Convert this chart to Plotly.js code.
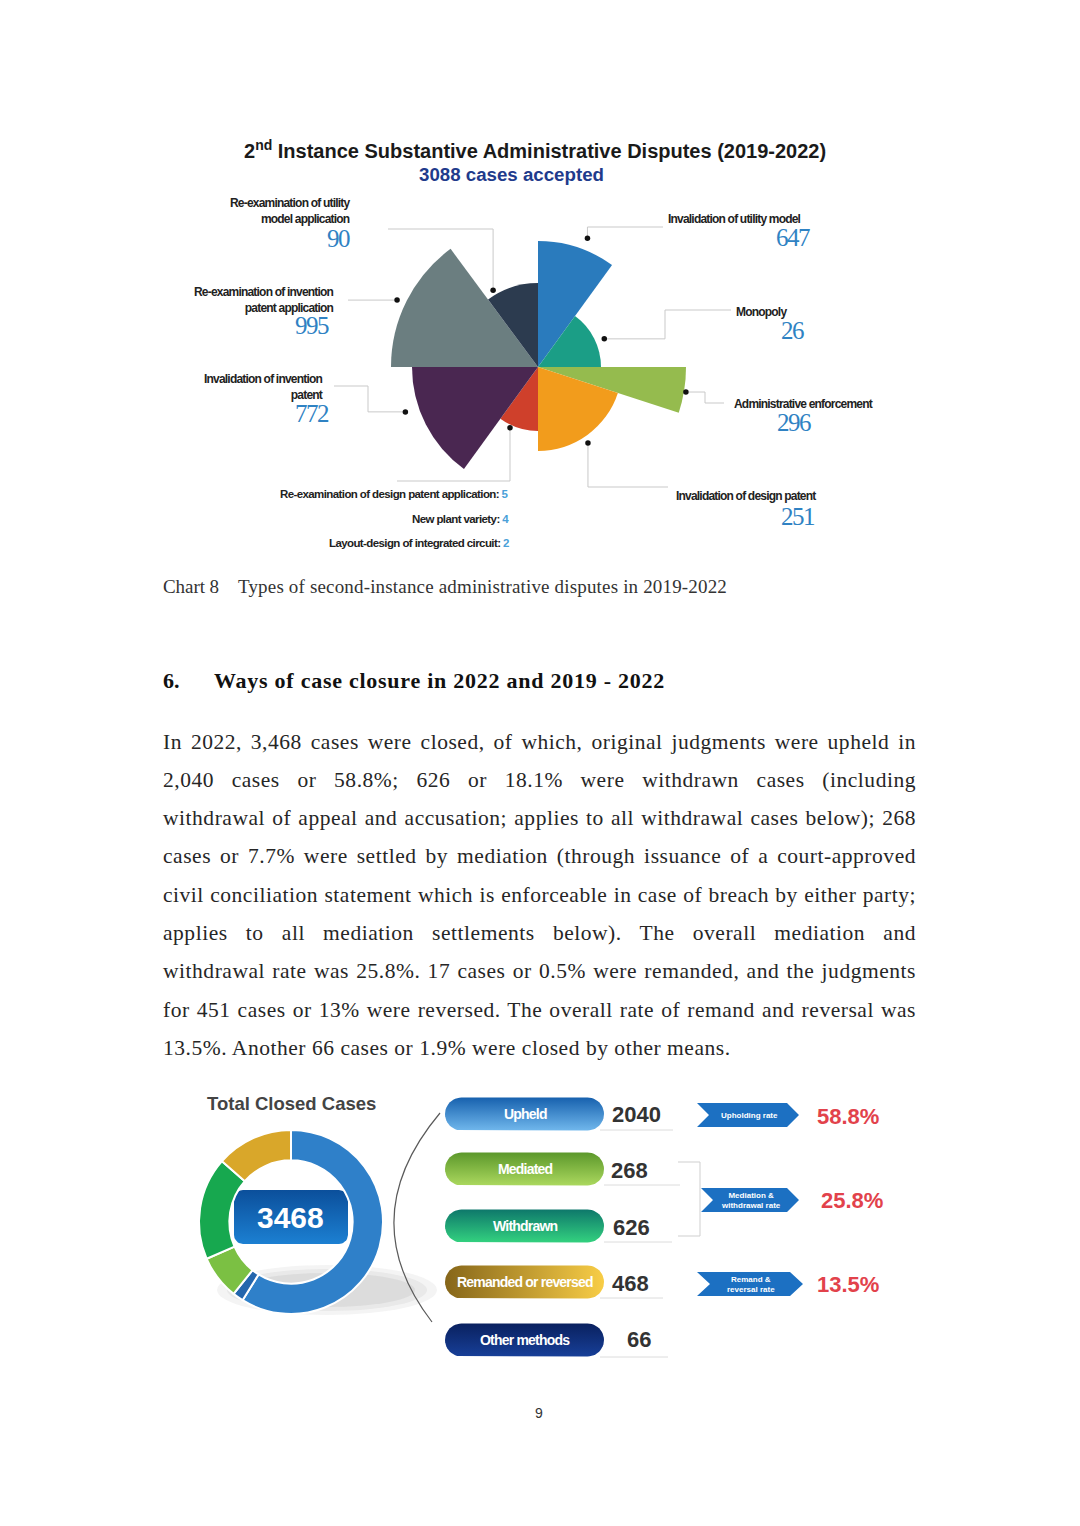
<!DOCTYPE html>
<html><head><meta charset="utf-8">
<script src="https://cdn.plot.ly/plotly-3.0.1.min.js"></script>
<style>
html,body{margin:0;padding:0;background:#fff;}
#page{position:relative;width:1080px;height:1526px;overflow:hidden;background:#fff;}
#plot{position:absolute;left:0;top:0;width:1080px;height:1526px;}
.t{position:absolute;font-family:'Liberation Serif','Times New Roman',serif;color:#262626;white-space:nowrap;}
.pl{left:163px;width:753px;font-size:21.5px;line-height:28px;text-align:justify;text-align-last:justify;}
.last{text-align-last:left;}
text[style*="lblnarrow"]{letter-spacing:-0.8px;}
text[style*="smlnarrow"]{letter-spacing:-0.6px;}
text[style*="pillnarrow"]{letter-spacing:-0.8px;}
text[style*="numnarrow"]{letter-spacing:-1.5px;}
</style></head>
<body><div id="page"><div id="plot"></div>
<div class="t fit" data-w="56" style="left:163px;top:575px;font-size:19px;line-height:24px;color:#333">Chart 8</div>
<div class="t fit" data-w="489" style="left:238px;top:575px;font-size:19px;line-height:24px;color:#333">Types of second-instance administrative disputes in 2019-2022</div>
<div class="t" style="left:163px;top:667px;font-size:22px;line-height:28px;font-weight:bold;color:#111">6.</div>
<div class="t fit" data-w="451" style="left:214px;top:667px;font-size:22px;line-height:28px;font-weight:bold;color:#111">Ways of case closure in 2022 and 2019 - 2022</div>
<div class="t pl" style="top:728px">In 2022, 3,468 cases were closed, of which, original judgments were upheld in</div>
<div class="t pl" style="top:766px">2,040 cases or 58.8%; 626 or 18.1% were withdrawn cases (including</div>
<div class="t pl" style="top:804px">withdrawal of appeal and accusation; applies to all withdrawal cases below); 268</div>
<div class="t pl" style="top:842px">cases or 7.7% were settled by mediation (through issuance of a court-approved</div>
<div class="t pl" style="top:881px">civil conciliation statement which is enforceable in case of breach by either party;</div>
<div class="t pl" style="top:919px">applies to all mediation settlements below). The overall mediation and</div>
<div class="t pl" style="top:957px">withdrawal rate was 25.8%. 17 cases or 0.5% were remanded, and the judgments</div>
<div class="t pl" style="top:996px">for 451 cases or 13% were reversed. The overall rate of remand and reversal was</div>
<div class="t pl last" style="top:1034px">13.5%. Another 66 cases or 1.9% were closed by other means.</div>
<div class="t" style="left:535px;top:1404px;font-size:14px;line-height:18px;font-family:'Liberation Sans',Arial,sans-serif;color:#333">9</div>
</div>
<script>
// ---------- DATA ----------
// Rose chart (2nd instance administrative disputes, 2019-2022)
const sectorNames = ['Invalidation of utility model','Monopoly','Administrative enforcement','Invalidation of design patent',
  'Design patent re-exam / new plant variety / IC layout-design','Invalidation of invention patent',
  'Re-examination of invention patent application','Re-examination of utility model application'];
const sectorCases = [647, 26, 296, 251, 11, 772, 995, 90];
const sectorStart = [0, 36, 90, 108, 180, 216, 270, 323.5];   // degrees, clockwise from north (as drawn)
const sectorEnd   = [36, 90, 108, 180, 216, 270, 323.5, 360];
const sectorRadius = [126, 63, 148, 84, 64, 126, 147, 84];     // drawn radius (as in picture)
const smallNames = ['Re-examination of design patent application', 'New plant variety', 'Layout-design of integrated circuit'];
const smallCases = [5, 4, 2];
const totalAccepted = 3088;
// Case closure 2022
const closureLabels = ['Upheld', 'Mediated', 'Withdrawn', 'Remanded or reversed', 'Other methods'];
const closureValues = [2040, 268, 626, 468, 66];
const totalClosed = 3468;
const rateLabels = ['Upholding rate', 'Mediation &<br>withdrawal rate', 'Remand &<br>reversal rate'];
const rateValues = [58.8, 25.8, 13.5];

// ---------- body text fitting ----------
(function(){
  const probe = document.createElement('span');
  probe.style.cssText = 'position:absolute;visibility:hidden;white-space:nowrap;left:0;top:0;';
  document.body.appendChild(probe);
  function natural(el){
    const cs = getComputedStyle(el);
    probe.style.fontFamily = cs.fontFamily; probe.style.fontSize = cs.fontSize; probe.style.fontWeight = cs.fontWeight;
    probe.style.letterSpacing = '0px';
    probe.textContent = el.textContent;
    return probe.getBoundingClientRect().width;
  }
  document.querySelectorAll('.fit').forEach(el => {
    const w = natural(el), n = el.textContent.length;
    el.style.letterSpacing = ((+el.dataset.w - w) / n).toFixed(3) + 'px';
  });
  const lines = [...document.querySelectorAll('.pl')];
  const lastEl = lines[lines.length-1];
  let ls = (575 - natural(lastEl)) / lastEl.textContent.length;
  lines.forEach(l => { const need = (748 - natural(l)) / l.textContent.length; if (need < ls) ls = need; });
  lines.forEach(l => l.style.letterSpacing = ls.toFixed(3) + 'px');
  probe.remove();
})();

// ---------- STYLE / LAYOUT ----------
const W = 1080, H = 1526;
const CX = 538, CY = 367, RMAX = 160;
const sectorColors = ['#2a7bbd','#1b9e86','#95bb4e','#f29c1c','#cf402b','#4a2751','#6b7e80','#2c3b4f'];
const dotAngle = [21, 67, 99.6, 146.7, 204.7, 251.3, 295.4, 329.7];
const dotGap = [12, 9, 2, 7, 3, 14, 9, 5];
const SANS = "'Liberation Sans',Arial,sans-serif";
const LBL = "'Liberation Sans',Arial,lblnarrow";
const SML = "'Liberation Sans',Arial,smlnarrow";
const PILL = "'Liberation Sans',Arial,pillnarrow";
const NUM = "'Liberation Serif','Times New Roman',numnarrow";
const numBlue = '#2f82c3';

const traces = [];
const shapes = [];
const ann = [];
function A(o){ ann.push(Object.assign({xref:'x', yref:'y', showarrow:false}, o)); }
function pathOf(pts){ return 'M ' + pts.map(p => p[0].toFixed(2) + ' ' + p[1].toFixed(2)).join(' L '); }

// Rose (barpolar)
traces.push({
  type:'barpolar', subplot:'polar',
  r: sectorRadius,
  theta: sectorStart.map((s,i) => (s + sectorEnd[i]) / 2),
  width: sectorStart.map((s,i) => sectorEnd[i] - s),
  customdata: sectorCases, text: sectorNames,
  marker:{color: sectorColors, line:{width:0}},
  hoverinfo:'text', showlegend:false
});
const dotR = sectorRadius.map((r,i) => r + dotGap[i]);
traces.push({
  type:'scatterpolar', subplot:'polar', mode:'markers',
  r: dotR, theta: dotAngle, cliponaxis:false,
  marker:{color:'#111', size:5.5}, hoverinfo:'skip', showlegend:false
});
const dots = dotR.map((r,i) => {
  const a = dotAngle[i] * Math.PI / 180;
  return [CX + r * Math.sin(a), CY - r * Math.cos(a)];
});
const leaderTails = [
  d => [[d[0],227],[663,227]],
  d => [[665,d[1]],[665,310],[731,310]],
  d => [[705,d[1]],[705,403],[724,403]],
  d => [[d[0],487],[668,487]],
  d => [[d[0],481],[397,481]],
  d => [[368,d[1]],[368,386],[334,386]],
  d => [[348,d[1]]],
  d => [[d[0],229],[388,229]]
];
leaderTails.forEach((f,i) => {
  shapes.push({type:'path', xref:'x', yref:'y', path: pathOf([dots[i]].concat(f(dots[i]))),
    line:{color:'#c9c9c9', width:1}, layer:'below'});
});

// Rose titles and labels
A({x:535, y:149, text:'2<sup>nd</sup> Instance Substantive Administrative Disputes (2019-2022)',
   font:{family:SANS, size:20, color:'#1a1a1a', weight:'bold'}, xanchor:'center', yanchor:'middle'});
A({x:511, y:174, text: totalAccepted + ' cases accepted',
   font:{family:SANS, size:18.7, color:'#1f3b8c', weight:'bold'}, xanchor:'center', yanchor:'middle'});
const lblFont = {family:LBL, size:12, color:'#222', weight:'bold'};
const numFont = {family:NUM, size:25, color:numBlue};
// [text, x, y, xanchor, numX, numY, sectorIndex]
const labelPos = [
  ['Invalidation of utility model', 803, 219, 'right', 812, 237, 0],
  ['Monopoly', 734, 312, 'left', 806, 330, 1],
  ['Administrative enforcement', 732, 404, 'left', 813, 422, 2],
  ['Invalidation of design patent', 674, 496, 'left', 816, 516, 3],
  ['Invalidation of invention<br>patent', 325, 387, 'right', 331, 413, 5],
  ['Re-examination of invention<br>patent application', 336, 300, 'right', 331, 325, 6],
  ['Re-examination of utility<br>model application', 352, 211, 'right', 352, 238, 7]
];
labelPos.forEach(l => {
  A({x:l[1], y:l[2], text:l[0], font:lblFont, xanchor:l[3], yanchor:'middle', align:l[3]});
  A({x:l[4], y:l[5], text:String(sectorCases[l[6]]), font:numFont, xanchor:'right', yanchor:'middle'});
});
const smallY = [494, 519, 543];
smallNames.forEach((n,i) => {
  A({x:511, y:smallY[i], text: n + ': <span style="color:#4aa0d8">' + smallCases[i] + '</span>',
     font:{family:SML, size:11.5, color:'#222', weight:'bold'}, xanchor:'right', yanchor:'middle'});
});

// ---------- Case closure infographic ----------
A({x:291, y:1103, text:'Total Closed Cases', font:{family:SANS, size:18.5, color:'#444', weight:'bold'}, xanchor:'center', yanchor:'middle'});
// donut shadow
[[0.08,110,25],[0.09,100,21],[0.11,88,17]].forEach(s => {
  shapes.push({type:'circle', xref:'x', yref:'y', x0:327-s[1], x1:327+s[1], y0:1290-s[2], y1:1290+s[2],
    fillcolor:'rgba(120,120,120,' + s[0] + ')', line:{width:0}, layer:'below'});
});
const donutOrder = [0, 4, 1, 2, 3];
const donutColors = ['#2f80c9', '#7bc043', '#17a84f', '#d9a72a', '#2366ad'];
const DCX = 291, DCY = 1222, DR = 92;
traces.push({
  type:'pie', values: donutOrder.map(i => closureValues[i]), labels: donutOrder.map(i => closureLabels[i]),
  marker:{colors: donutOrder.map(i => donutColors[i]), line:{color:'#ffffff', width:2}},
  sort:false, direction:'clockwise', rotation:0, hole:0.67, textinfo:'none', hoverinfo:'label+value',
  showlegend:false,
  domain:{x:[(DCX-DR)/W, (DCX+DR)/W], y:[1-(DCY+DR)/H, 1-(DCY-DR)/H]}
});
function roundRect(x0,y0,x1,y1,r,n){
  const pts=[]; n=n||8;
  const corners=[[x1-r,y0+r,-90],[x1-r,y1-r,0],[x0+r,y1-r,90],[x0+r,y0+r,180]];
  corners.forEach(c => { for(let k=0;k<=n;k++){ const a=(c[2]+90*k/n)*Math.PI/180; pts.push([c[0]+r*Math.cos(a), c[1]+r*Math.sin(a)]); } });
  pts.push(pts[0]); return pts;
}
function gradShape(pts, type, c0, c1){
  traces.push({type:'scatter', mode:'lines', x:pts.map(p=>p[0]), y:pts.map(p=>p[1]), fill:'toself',
    line:{width:0, color:'rgba(0,0,0,0)'}, fillgradient:{type:type, colorscale:[[0,c0],[1,c1]]},
    hoverinfo:'skip', showlegend:false});
}
gradShape(roundRect(234,1190,348,1244,9,10), 'vertical', '#1c80d2', '#0b4f9b');
A({x:290, y:1217, text:String(totalClosed), font:{family:SANS, size:30, color:'#fff', weight:'bold'}, xanchor:'center', yanchor:'middle'});
// arc
shapes.push({type:'path', xref:'x', yref:'y', path:'M 440 1113 Q 352 1218 432 1322', line:{color:'#5a5a5a', width:1.2}});

// pills
const pillY = [1114, 1169, 1226, 1282, 1340];
const pillGrad = [['vertical','#70b7ec','#1761ae'], ['vertical','#abd85e','#5c982b'], ['vertical','#33d17f','#0e786b'],
                  ['horizontal','#86661a','#f8cd46'], ['vertical','#173f98','#0a215f']];
const numX = [636, 629, 631, 630, 639];
const numY = [1114, 1170, 1227, 1283, 1339];
const ulines = [[600,673,1130],[604,680,1185],[604,672,1242],[600,663,1298],[600,668,1357]];
closureLabels.forEach((lab,i) => {
  const y0 = pillY[i]-16.5, y1 = pillY[i]+16.5;
  shapes.push({type:'line', xref:'x', yref:'y', x0:ulines[i][0], x1:ulines[i][1], y0:ulines[i][2], y1:ulines[i][2], line:{color:'#dcdcdc', width:1}});
  gradShape(roundRect(445, y0, 604, y1, 16.5, 12), pillGrad[i][0], pillGrad[i][1], pillGrad[i][2]);
  A({x:525, y:pillY[i], text:lab, font:{family:PILL, size:14, color:'#fff', weight:'bold'}, xanchor:'center', yanchor:'middle'});
  A({x:numX[i], y:numY[i], text:String(closureValues[i]), font:{family:SANS, size:22, color:'#333', weight:'bold'}, xanchor:'center', yanchor:'middle'});
});
// bracket
shapes.push({type:'path', xref:'x', yref:'y', path:'M 678 1162 L 700 1162 L 700 1236 L 678 1236', line:{color:'#cfcfcf', width:1}});
// chevrons + rates
const chev = [[697,787,799,1115,12,12], [701,787,799,1200,12,12], [697,790,803,1284,12,13]];
const rateY = [1116, 1200, 1284];
const rateX = [848, 852, 848];
chev.forEach((c,i) => {
  const [xl, xr, xp, yc, hh, notch] = c;
  shapes.push({type:'path', xref:'x', yref:'y',
    path: pathOf([[xl,yc-hh],[xr,yc-hh],[xp,yc],[xr,yc+hh],[xl,yc+hh],[xl+notch,yc]]) + ' Z',
    fillcolor:'#1c70c2', line:{width:0}});
  A({x:(xl+notch+xr)/2 + 1, y:yc, text:rateLabels[i], font:{family:SANS, size:8, color:'#fff', weight:'bold'}, xanchor:'center', yanchor:'middle', align:'center'});
  A({x:rateX[i], y:rateY[i], text:rateValues[i].toFixed(1) + '%', font:{family:SANS, size:22, color:'#e2424b', weight:'bold'}, xanchor:'center', yanchor:'middle'});
});

const layout = {
  width:W, height:H, autosize:false, margin:{l:0,r:0,t:0,b:0},
  paper_bgcolor:'rgba(0,0,0,0)', plot_bgcolor:'rgba(0,0,0,0)',
  xaxis:{range:[0,W], visible:false, fixedrange:true, domain:[0,1]},
  yaxis:{range:[H,0], visible:false, fixedrange:true, domain:[0,1]},
  polar:{domain:{x:[(CX-RMAX)/W,(CX+RMAX)/W], y:[1-(CY+RMAX)/H, 1-(CY-RMAX)/H]},
    bgcolor:'rgba(0,0,0,0)', bargap:0,
    radialaxis:{visible:false, range:[0,RMAX]},
    angularaxis:{visible:false, rotation:90, direction:'clockwise'}},
  shapes:shapes, annotations:ann, showlegend:false
};
Plotly.newPlot('plot', traces, layout, {displayModeBar:false, staticPlot:true});
</script>
</body></html>
